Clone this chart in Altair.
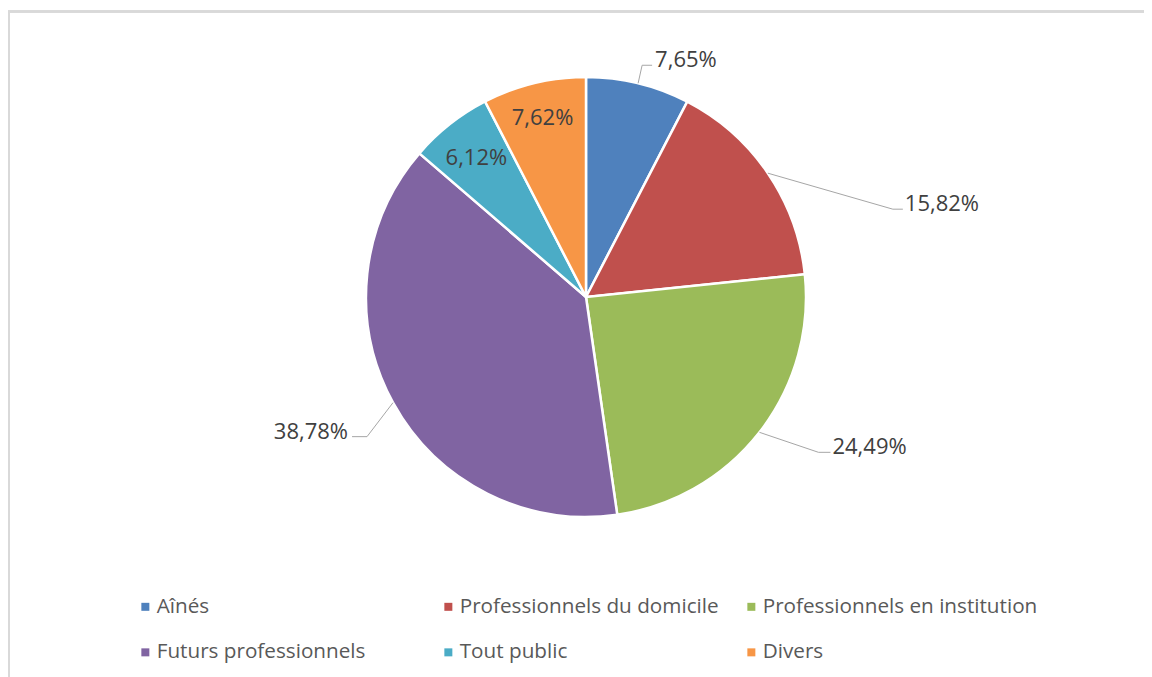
import math
import altair as alt
import pandas as pd

# ---- data ----
categories = ["Aînés", "Professionnels du domicile", "Professionnels en institution",
              "Futurs professionnels", "Tout public", "Divers"]
values = [7.65, 15.82, 24.49, 38.78, 6.12, 7.62]
labels = ["7,65%", "15,82%", "24,49%", "38,78%", "6,12%", "7,62%"]
colors = ["#4F81BD", "#C0504D", "#9BBB59", "#8064A2", "#4BACC6", "#F79646"]

# ---- layout / style ----
W, H = 1136, 669
CX, CY, R = 578, 289, 220
FONT = "Open Sans"
LABEL_COLOR = "#404040"
leader_style = {
    0: (4, -18, 10, 3),
    1: (125, 36, 10, 2),
    2: (59, 20, 12, 2),
    3: (-26, 34, -15, -4),
}
inside_radius = {4: 177, 5: 184}

pie_df = pd.DataFrame({"cat": categories, "value": values, "idx": list(range(len(values)))})

ncol = 3
nrow = math.ceil(len(categories) / ncol)
legend_order = [r * ncol + c for c in range(ncol) for r in range(nrow) if r * ncol + c < len(categories)]
legend_domain = [categories[i] for i in legend_order]
legend_range = [colors[i] for i in legend_order]

total = sum(values)
mids = []
cum = 0.0
for v in values:
    mids.append((cum + v / 2) / total * 2 * math.pi)
    cum += v

line_rows, out_rows, in_rows = [], [], []
for i, a in enumerate(mids):
    if i in leader_style:
        ex, ey, run, gap = leader_style[i]
        sx, sy = CX + R * math.sin(a), CY - R * math.cos(a)
        bx, by = sx + ex, sy + ey
        fx, fy = bx + run, by
        for k, (px, py) in enumerate([(sx, sy), (bx, by), (fx, fy)]):
            line_rows.append({"lab": labels[i], "k": k, "x": px, "y": py})
        out_rows.append({"lab": labels[i], "x": fx + gap, "y": fy + 2,
                         "side": "right" if run > 0 else "left"})
    else:
        r_in = inside_radius[i]
        in_rows.append({"lab": labels[i],
                        "x": CX + r_in * math.sin(a),
                        "y": CY - r_in * math.cos(a)})

line_df = pd.DataFrame(line_rows)
out_df = pd.DataFrame(out_rows)
in_df = pd.DataFrame(in_rows)

pie = alt.Chart(pie_df).mark_arc(outerRadius=R, stroke="white", strokeWidth=2.5).encode(
    theta=alt.Theta("value:Q", stack=True),
    order=alt.Order("idx:Q"),
    color=alt.Color("cat:N", scale=alt.Scale(domain=legend_domain, range=legend_range),
                    sort=legend_domain,
                    legend=alt.Legend(title=None, orient="none", legendX=127, legendY=588,
                                      columns=ncol, gridAlign="all", columnPadding=6,
                                      rowPadding=24, symbolType="square", symbolSize=64,
                                      symbolStrokeWidth=0, labelFont=FONT, labelFontSize=20.7,
                                      labelColor="#595959", labelOffset=1, labelLimit=400,
                                      padding=0)),
    x=alt.value(CX),
    y=alt.value(CY),
)

leaders = alt.Chart(line_df).mark_line(color="#A6A6A6", strokeWidth=1).encode(
    x=alt.X("x:Q", scale=None),
    y=alt.Y("y:Q", scale=None),
    detail="lab:N",
    order="k:Q",
)

txt_r = alt.Chart(out_df).transform_filter(alt.datum.side == "right").mark_text(
    align="left", baseline="alphabetic", font=FONT, fontSize=22, color=LABEL_COLOR
).encode(x=alt.X("x:Q", scale=None), y=alt.Y("y:Q", scale=None), text="lab:N")

txt_l = alt.Chart(out_df).transform_filter(alt.datum.side == "left").mark_text(
    align="right", baseline="alphabetic", font=FONT, fontSize=22, color=LABEL_COLOR
).encode(x=alt.X("x:Q", scale=None), y=alt.Y("y:Q", scale=None), text="lab:N")

txt_in = alt.Chart(in_df).mark_text(
    align="center", baseline="middle", font=FONT, fontSize=22, color=LABEL_COLOR
).encode(x=alt.X("x:Q", scale=None), y=alt.Y("y:Q", scale=None), text="lab:N")

frame_left = alt.Chart(pie_df).mark_rule(color="#D9D9D9", strokeWidth=2).encode(
    x=alt.value(1), y=alt.value(3), y2=alt.value(H))
frame_top = alt.Chart(pie_df).mark_rule(color="#D9D9D9", strokeWidth=2).encode(
    x=alt.value(0), x2=alt.value(W), y=alt.value(3.5))

chart = alt.layer(frame_left, frame_top, pie, leaders, txt_r, txt_l, txt_in).properties(
    width=W, height=H, autosize=alt.AutoSizeParams(type="none"), padding=0,
    background="white"
).configure_view(stroke="transparent", strokeWidth=0)

chart.save("out.html", embed_options={"renderer": "svg", "actions": False})
